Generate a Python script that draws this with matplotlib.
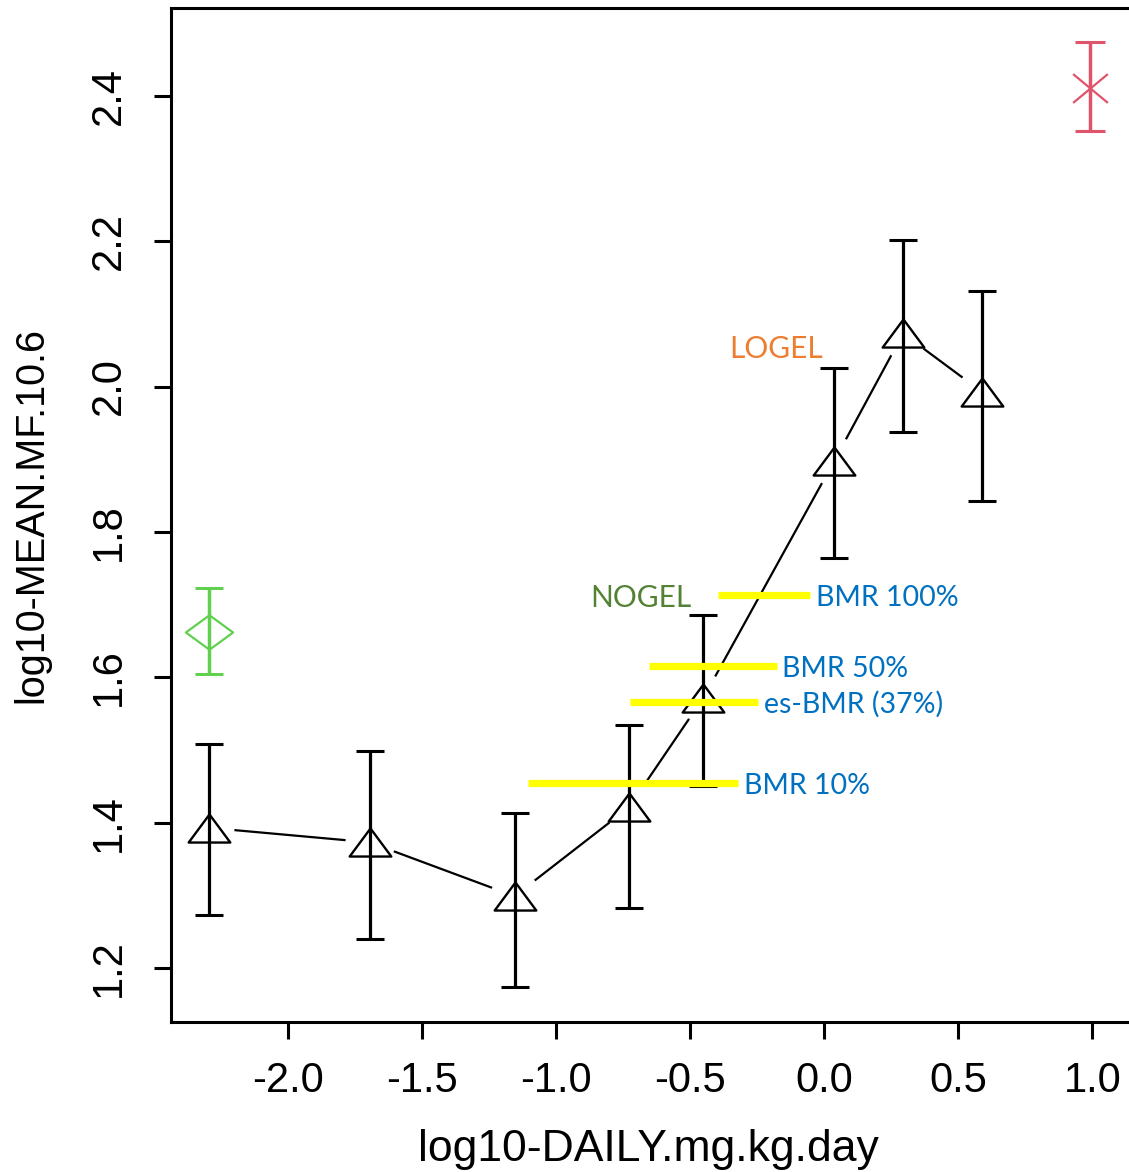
import numpy as np
import matplotlib
matplotlib.use("Agg")
import matplotlib.pyplot as plt
from matplotlib.path import Path

# dose groups (log10 mg/kg/day) and log10 mean MF with interval
dose = [-2.293, -1.694, -1.154, -0.728, -0.450, 0.038, 0.294, 0.590]
mf_mean = [1.393, 1.373, 1.299, 1.421, 1.572, 1.898, 2.073, 1.992]
mf_low = [1.273, 1.240, 1.174, 1.283, 1.450, 1.764, 1.937, 1.842]
mf_high = [1.508, 1.499, 1.414, 1.535, 1.686, 2.026, 2.201, 2.132]

# controls: green diamond (negative), red cross (positive)
neg_x, neg_mean, neg_low, neg_high = [-2.293], [1.662], [1.605], [1.723]
pos_x, pos_mean, pos_low, pos_high = [0.99], [2.411], [2.351], [2.474]

# BMR bars drawn on top
bmr_labels = ["BMR 100%", "BMR 50%", "es-BMR (37%)", "BMR 10%"]
bmr_level = [1.713, 1.615, 1.566, 1.454]
bmr_start = [-0.396, -0.654, -0.722, -1.105]
bmr_end = [-0.052, -0.177, -0.245, -0.321]

xticks = [-2.0, -1.5, -1.0, -0.5, 0.0, 0.5, 1.0]
yticks = [1.2, 1.4, 1.6, 1.8, 2.0, 2.2, 2.4]

W, H = 1129, 1172
fig = plt.figure(figsize=(W / 100, H / 100), dpi=100)
ax = fig.add_axes([171 / W, 1 - 1022 / H, (1131 - 171) / W, (1022 - 7.5) / H])

# flattened markers like the original
tri = Path([(-1, -0.674), (1, -0.674), (0, 0.674), (-1, -0.674)],
           [Path.MOVETO, Path.LINETO, Path.LINETO, Path.CLOSEPOLY])
diam = Path([(-1, 0), (0, 0.73), (1, 0), (0, -0.73), (-1, 0)],
            [Path.MOVETO, Path.LINETO, Path.LINETO, Path.LINETO, Path.CLOSEPOLY])
cross = Path([(-1, -0.83), (1, 0.83), (-1, 0.83), (1, -0.83)],
             [Path.MOVETO, Path.LINETO, Path.MOVETO, Path.LINETO])

# type="b" style line: line, then white gaps around the points
ax.plot(dose, mf_mean, color="black", lw=1.6, zorder=1)
ax.plot(dose, mf_mean, "o", ms=36, mfc="white", mec="none", zorder=2)

mean = np.array(mf_mean)
yerr = [mean - np.array(mf_low), np.array(mf_high) - mean]
ax.errorbar(dose, mf_mean, yerr=yerr, fmt="none", ecolor="black",
            elinewidth=2.3, capsize=10, capthick=2.2, zorder=3)
ax.plot(dose, mf_mean, ls="none", marker=tri, ms=30, mfc="none",
        mec="black", mew=1.7, zorder=4)

nm = np.array(neg_mean)
ax.errorbar(neg_x, neg_mean, yerr=[nm - np.array(neg_low), np.array(neg_high) - nm],
            fmt="none", ecolor="#61D04F", elinewidth=2.5, capsize=10, capthick=2.2)
ax.plot(neg_x, neg_mean, ls="none", marker=diam, ms=34, mfc="none",
        mec="#61D04F", mew=1.6)

pm = np.array(pos_mean)
ax.errorbar(pos_x, pos_mean, yerr=[pm - np.array(pos_low), np.array(pos_high) - pm],
            fmt="none", ecolor="#DF536B", elinewidth=2.5, capsize=11, capthick=2.2)
ax.plot(pos_x, pos_mean, ls="none", marker=cross, ms=25, mfc="none",
        mec="#DF536B", mew=1.6)

# yellow BMR bars and labels
ax.hlines(bmr_level, bmr_start, bmr_end, colors="#FFFF00", lw=5.2, zorder=6)
for lbl, lvl, x1 in zip(bmr_labels, bmr_level, bmr_end):
    ax.annotate(lbl, xy=(x1, lvl), xytext=(4, -7.5), textcoords="offset points",
                ha="left", va="baseline", color="#0070C0", fontsize=20.5,
                family="Lato", zorder=7)
ax.text(-0.872, 1.697, "NOGEL", color="#548235", fontsize=21.5, family="Lato",
        ha="left", va="baseline")
ax.text(-0.352, 2.039, "LOGEL", color="#ED7D31", fontsize=21.5, family="Lato",
        ha="left", va="baseline")

ax.set_xlim(-2.4345, 1.1435)
ax.set_ylim(1.1259, 2.5213)
ax.set_xticks(xticks)
ax.set_yticks(yticks)
ax.set_xticklabels([f"{v:.1f}" for v in xticks], family="Liberation Sans", fontsize=30)
ax.set_yticklabels([f"{v:.1f}" for v in yticks], family="Liberation Sans",
                   fontsize=30, rotation=90, va="center")
ax.tick_params(direction="out", length=12, width=2.2)
ax.tick_params(axis="x", pad=16)
ax.tick_params(axis="y", pad=18)
for s in ax.spines.values():
    s.set_linewidth(2.2)

ax.set_xlabel("log10-DAILY.mg.kg.day", family="Liberation Sans", fontsize=32, va="center")
ax.xaxis.set_label_coords(0.497, -0.126)
ax.set_ylabel("log10-MEAN.MF.10.6", family="Liberation Sans", fontsize=28.5, va="center")
ax.yaxis.set_label_coords(-0.145, 0.5)

fig.savefig("out.png", dpi=100)
